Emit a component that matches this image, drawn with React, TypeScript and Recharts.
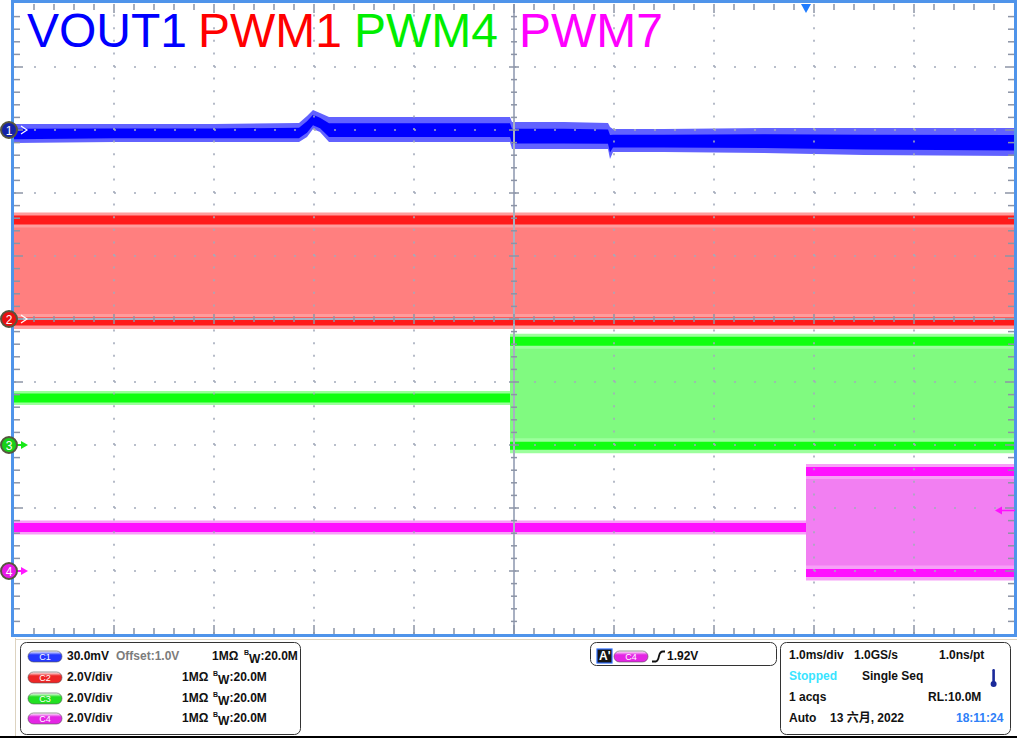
import React from "react";
import { ComposedChart, XAxis, YAxis, Area, Line, Scatter, ReferenceLine, ReferenceDot } from "recharts";

// channel setup (volts/div, marker position in screen divisions, offset)
const chLabel = ["1", "2", "3", "4"];
const chScale = [0.03, 2, 2, 2];
const chPosition = [8, 5, 3, 1];
const chOffset = [1.0, 0, 0, 0];

// VOUT1 noise envelope, volts, time in ms from left edge
const vout1T = [0, 1, 2, 2.85, 2.93, 2.99, 3.06, 3.15, 3.4, 4.96, 4.98, 5.5, 5.94, 5.96, 5.99, 6.5, 7.5, 8.5, 10];
const vout1Max = [1.0029, 1.0029, 1.0029, 1.0033, 1.0067, 1.0095, 1.0081, 1.0062, 1.0062, 1.0062, 1.0038, 1.0038, 1.0033, 1.0014, 1.0005, 1.0005, 1.001, 1.001, 1.001];
const vout1Min = [0.9938, 0.9943, 0.9943, 0.9943, 0.9967, 1.0005, 0.999, 0.9943, 0.9943, 0.9943, 0.991, 0.991, 0.991, 0.9862, 0.9895, 0.9895, 0.989, 0.9881, 0.9876];

// PWM1 switches over the whole record
const pwm1T = [0, 10];
const pwm1High = [3.14, 3.14];
const pwm1Low = [-0.08, -0.08];

// PWM4 sits at mid level, then starts switching
const pwm4IdleT = [0, 4.96];
const pwm4Idle = [1.49, 1.49];
const pwm4T = [4.96, 10];
const pwm4High = [3.29, 3.29];
const pwm4Low = [-0.02, -0.02];

// PWM7 (trigger source)
const pwm7IdleT = [0, 7.92];
const pwm7Idle = [1.38, 1.38];
const pwm7T = [7.92, 10];
const pwm7High = [3.16, 3.16];
const pwm7Low = [-0.06, -0.06];

const triggerTime = 7.92;
const triggerLevel = 1.92;

const FONT = '"Liberation Sans", Arial, "Noto Sans CJK SC", sans-serif';

const toDiv = (ch: number, v: number) => chPosition[ch] + (v - chOffset[ch]) / chScale[ch];
const band = (ch: number, t: number[], lo: number[], hi: number[]) =>
  t.map((x, i) => ({ t: x, lo: toDiv(ch, lo[i]), hi: toDiv(ch, hi[i]) }));
const level = (ch: number, t: number[], v: number[]) => t.map((x, i) => ({ t: x, v: toDiv(ch, v[i]) }));

const voutBand = band(0, vout1T, vout1Min, vout1Max);
const voutCore = voutBand.map((d) => ({ t: d.t, lo: d.lo + 0.2 * (d.hi - d.lo), hi: d.hi - 0.25 * (d.hi - d.lo) }));

const traces = [
  { ch: 1, t: pwm1T, hi: pwm1High, lo: pwm1Low, idleT: [] as number[], idle: [] as number[], fill: "#ff7f7f", halo: "#ff9c9c", rail: "#ff1a1a" },
  { ch: 2, t: pwm4T, hi: pwm4High, lo: pwm4Low, idleT: pwm4IdleT, idle: pwm4Idle, fill: "#80fa80", halo: "#9cff9c", rail: "#10ff10" },
  { ch: 3, t: pwm7T, hi: pwm7High, lo: pwm7Low, idleT: pwm7IdleT, idle: pwm7Idle, fill: "#f27ff2", halo: "#f7a0f7", rail: "#ff10ff" },
];

// graticule minor ticks
const tickPts: { t: number; v: number; kind: string; major: boolean }[] = [];
for (let k = 1; k < 50; k++) {
  const major = k % 5 === 0;
  tickPts.push({ t: k / 5, v: 10, kind: "top", major });
  tickPts.push({ t: k / 5, v: 0, kind: "bottom", major });
  tickPts.push({ t: k / 5, v: 5, kind: "hc", major });
  tickPts.push({ t: 0, v: k / 5, kind: "left", major });
  tickPts.push({ t: 10, v: k / 5, kind: "right", major });
  tickPts.push({ t: 5, v: k / 5, kind: "vc", major });
}
const gridDiv = [1, 2, 3, 4, 6, 7, 8, 9];
const GRID = "#a3abbb";
const TICK = "#8c94a6";

const TickShape = (p: any) => {
  const { cx, cy, payload } = p;
  const L = payload.major ? 9 : 6;
  const s = payload.major ? 5 : 3;
  let seg = [cx, cy, cx, cy];
  if (payload.kind === "top") seg = [cx, cy, cx, cy + L];
  if (payload.kind === "bottom") seg = [cx, cy, cx, cy - L];
  if (payload.kind === "left") seg = [cx, cy, cx + L, cy];
  if (payload.kind === "right") seg = [cx - L, cy, cx, cy];
  if (payload.kind === "hc") seg = [cx, cy - s, cx, cy + s];
  if (payload.kind === "vc") seg = [cx - s, cy, cx + s, cy];
  return <line x1={seg[0]} y1={seg[1]} x2={seg[2]} y2={seg[3]} stroke={TICK} strokeWidth={1.5} />;
};

const markerFill = ["#1422a8", "#e81010", "#18d018", "#e818e8"];
const markerColor = ["#2a2aff", "#ff2020", "#18e818", "#ff18ff"];

const ChannelMarker = (p: any) => {
  const { cx, cy, ch } = p;
  const solid = ch >= 2;
  return (
    <g>
      {solid ? (
        <g>
          <line x1={cx + 3} y1={cy} x2={cx + 8} y2={cy} stroke={markerColor[ch]} strokeWidth={2} />
          <polygon points={`${cx + 7},${cy - 4} ${cx + 14},${cy} ${cx + 7},${cy + 4}`} fill={markerColor[ch]} />
        </g>
      ) : (
        <polyline points={`${cx + 7},${cy - 4} ${cx + 13},${cy} ${cx + 7},${cy + 4}`} fill="none" stroke="#ffffff" strokeWidth={1.2} />
      )}
      <circle cx={cx - 5} cy={cy} r={8} fill={markerFill[ch]} stroke="#56563e" strokeWidth={2} />
      <text x={cx - 5} y={cy + 4.5} textAnchor="middle" fontFamily={FONT} fontSize={12} fill="#fff">
        {chLabel[ch]}
      </text>
    </g>
  );
};

const TriggerTop = (p: any) => {
  const { cx, cy } = p;
  return <polygon points={`${cx - 5},${cy} ${cx + 5},${cy} ${cx},${cy + 9}`} fill="#1f7cff" />;
};

const TriggerLevel = (p: any) => {
  const { cx, cy } = p;
  return (
    <g>
      <line x1={cx - 12} y1={cy} x2={cx + 1} y2={cy} stroke="#ff10ff" strokeWidth={1.5} />
      <polygon points={`${cx - 19},${cy} ${cx - 12},${cy - 4} ${cx - 12},${cy + 4}`} fill="#ff10ff" />
    </g>
  );
};

const pillColors = ["#2438ff", "#ee2626", "#22e022", "#e426e4"];

function Pill({ x, y, ch }: { x: number; y: number; ch: number }) {
  return (
    <g>
      <rect x={x} y={y} width={34} height={11} rx={5.5} fill={`url(#pill${ch})`} stroke="#555" strokeWidth={0.6} />
      <text x={x + 17} y={y + 8.6} textAnchor="middle" fontFamily={FONT} fontSize={9} fill="#fff">
        C{ch + 1}
      </text>
    </g>
  );
}

function BW({ x, y }: { x: number; y: number }) {
  return (
    <g fontFamily={FONT} fontWeight="bold" fill="#111">
      <text x={x} y={y - 5} fontSize={7}>B</text>
      <text x={x + 5} y={y + 3} fontSize={12}>W</text>
      <text x={x + 16.5} y={y} fontSize={12}>:20.0M</text>
    </g>
  );
}

const rowY = [660, 681, 702, 722];
const scaleText = ["30.0mV", "2.0V/div", "2.0V/div", "2.0V/div"];

export default function App() {
  return (
    <div style={{ position: "fixed", left: 0, top: 0, width: 1017, height: 738, background: "#fff", overflow: "hidden" }}>
      {/* scope frame, beneath the chart */}
      <svg style={{ position: "absolute", left: 0, top: 0 }} width={1017} height={738}>
        <rect x={12.5} y={1.5} width={1003} height={634} fill="none" stroke="#4f94ea" strokeWidth={3} />
      </svg>

      <div style={{ position: "absolute", left: 0, top: 0 }}>
        <ComposedChart width={1017} height={638} margin={{ top: 4, right: 3, bottom: 4, left: 14 }}>
          <XAxis type="number" dataKey="t" domain={[0, 10]} hide allowDataOverflow />
          <YAxis type="number" domain={[0, 10]} hide allowDataOverflow />

          {/* VOUT1 */}
          <Area data={voutBand} dataKey={(d: any) => [d.lo, d.hi]} type="linear" fill="#6262ff" fillOpacity={1} stroke="none" dot={false} activeDot={false} isAnimationActive={false} />
          <Area data={voutCore} dataKey={(d: any) => [d.lo, d.hi]} type="linear" fill="#0000ff" fillOpacity={1} stroke="none" dot={false} activeDot={false} isAnimationActive={false} />

          {traces.map((tr) => (
            <Area key={`f${tr.ch}`} data={band(tr.ch, tr.t, tr.lo, tr.hi)} dataKey={(d: any) => [d.lo, d.hi]} type="linear" fill={tr.fill} fillOpacity={1} stroke="none" dot={false} activeDot={false} isAnimationActive={false} />
          ))}
          {traces.map((tr) => [
            <Line key={`hh${tr.ch}`} data={level(tr.ch, tr.t, tr.hi)} dataKey="v" stroke={tr.halo} strokeWidth={15} strokeLinecap="butt" dot={false} activeDot={false} isAnimationActive={false} />,
            <Line key={`lh${tr.ch}`} data={level(tr.ch, tr.t, tr.lo)} dataKey="v" stroke={tr.halo} strokeWidth={15} strokeLinecap="butt" dot={false} activeDot={false} isAnimationActive={false} />,
            <Line key={`ih${tr.ch}`} data={level(tr.ch, tr.idleT, tr.idle)} dataKey="v" stroke={tr.halo} strokeWidth={14} strokeLinecap="butt" dot={false} activeDot={false} isAnimationActive={false} />,
            <Line key={`hr${tr.ch}`} data={level(tr.ch, tr.t, tr.hi)} dataKey="v" stroke={tr.rail} strokeWidth={9} strokeLinecap="butt" dot={false} activeDot={false} isAnimationActive={false} />,
            <Line key={`lr${tr.ch}`} data={level(tr.ch, tr.t, tr.lo)} dataKey="v" stroke={tr.rail} strokeWidth={8} strokeLinecap="butt" dot={false} activeDot={false} isAnimationActive={false} />,
            <Line key={`ir${tr.ch}`} data={level(tr.ch, tr.idleT, tr.idle)} dataKey="v" stroke={tr.rail} strokeWidth={9} strokeLinecap="butt" dot={false} activeDot={false} isAnimationActive={false} />,
          ])}

          {/* graticule */}
          {gridDiv.map((g) => (
            <ReferenceLine key={`gy${g}`} y={g} stroke={GRID} strokeWidth={1.6} strokeDasharray="2 18" zIndex={1500} />
          ))}
          {gridDiv.map((g) => (
            <ReferenceLine key={`gx${g}`} x={g} stroke={GRID} strokeWidth={1.6} strokeDasharray="2 10.6" zIndex={1500} />
          ))}
          <ReferenceLine y={5} stroke="#a8b0c2" strokeWidth={2} zIndex={1500} />
          <ReferenceLine x={5} stroke="#a8b0c2" strokeWidth={2} zIndex={1500} />
          <Scatter data={tickPts} dataKey="v" shape={TickShape} isAnimationActive={false} zIndex={1500} />

          {/* markers */}
          <ReferenceDot x={triggerTime} y={10} r={0} shape={TriggerTop} zIndex={1600} />
          <ReferenceDot x={10} y={toDiv(3, triggerLevel)} r={0} shape={TriggerLevel} zIndex={1600} />
          {[0, 1, 2, 3].map((ch) => (
            <ReferenceDot key={`m${ch}`} x={0} y={chPosition[ch]} r={0} shape={(p: any) => <ChannelMarker {...p} ch={ch} />} zIndex={1600} />
          ))}
        </ComposedChart>
      </div>

      <svg style={{ position: "absolute", left: 0, top: 0, pointerEvents: "none" }} width={1017} height={738}>
        <defs>
          {pillColors.map((c, i) => (
            <linearGradient key={i} id={`pill${i}`} x1="0" y1="0" x2="0" y2="1">
              <stop offset="0%" stopColor="#ffffff" stopOpacity={0.9} />
              <stop offset="35%" stopColor={c} />
              <stop offset="100%" stopColor={c} />
            </linearGradient>
          ))}
        </defs>

        {/* titles */}
        <g fontFamily={FONT} fontSize={48}>
          <text x={27} y={47} fill="#0000ff">VOUT1</text>
          <text x={198} y={47} fill="#ff0000">PWM1</text>
          <text x={354} y={47} fill="#00ee00">PWM4</text>
          <text x={519} y={47} fill="#ff00ff">PWM7</text>
        </g>

        {/* info panel */}
        <line x1={15.5} y1={638} x2={15.5} y2={737} stroke="#ddd3c0" strokeWidth={1} />
        <line x1={15} y1={639.5} x2={1017} y2={639.5} stroke="#ddd3c0" strokeWidth={1} />
        <line x1={0} y1={737} x2={1017} y2={737} stroke="#000" strokeWidth={2} />

        <rect x={20.5} y={642.5} width={280} height={92} rx={6} fill="#fff" stroke="#333" />
        <rect x={590.5} y={642.5} width={186} height={23} rx={6} fill="#fff" stroke="#333" />
        <rect x={780.5} y={642.5} width={230} height={92} rx={6} fill="#fff" stroke="#333" />

        {rowY.map((y, i) => (
          <g key={i}>
            <Pill x={28} y={y - 9} ch={i} />
            <text x={67} y={y} fontFamily={FONT} fontWeight="bold" fontSize={12} fill="#111">{scaleText[i]}</text>
            <text x={i === 0 ? 212 : 182} y={y} fontFamily={FONT} fontWeight="bold" fontSize={12} fill="#111">1MΩ</text>
            <BW x={i === 0 ? 244 : 213} y={y} />
          </g>
        ))}
        <text x={116} y={660} fontFamily={FONT} fontWeight="bold" fontSize={12} fill="#7c7c7c">Offset:1.0V</text>

        <rect x={597} y={649} width={15} height={14} fill="#151515" stroke="#2f6fff" strokeWidth={1.2} />
        <text x={599} y={660} fontFamily={FONT} fontWeight="bold" fontSize={12} fill="#fff">A'</text>
        <Pill x={614} y={651} ch={3} />
        <path d="M652 661.5 L656 661.5 Q658 661 659 656 Q660 651.5 663 651.5 L665 651.5" fill="none" stroke="#111" strokeWidth={1.8} />
        <text x={667} y={660} fontFamily={FONT} fontWeight="bold" fontSize={12} fill="#111">1.92V</text>

        <g fontFamily={FONT} fontWeight="bold" fontSize={12} fill="#111">
          <text x={789} y={659}>1.0ms/div</text>
          <text x={854} y={659}>1.0GS/s</text>
          <text x={939} y={659}>1.0ns/pt</text>
          <text x={789} y={680} fill="#38e4ff">Stopped</text>
          <text x={862} y={680}>Single Seq</text>
          <text x={789} y={701}>1 acqs</text>
          <text x={928} y={701}>RL:10.0M</text>
          <text x={789} y={722}>Auto</text>
          <text x={830} y={722}>13 六月, 2022</text>
          <text x={956} y={722} fill="#2f7ff8">18:11:24</text>
        </g>
        <rect x={992.3} y={669} width={2.6} height={14} rx={1.2} fill="#1b2a9a" />
        <circle cx={993.6} cy={684} r={3} fill="#1b2a9a" />
      </svg>
    </div>
  );
}
